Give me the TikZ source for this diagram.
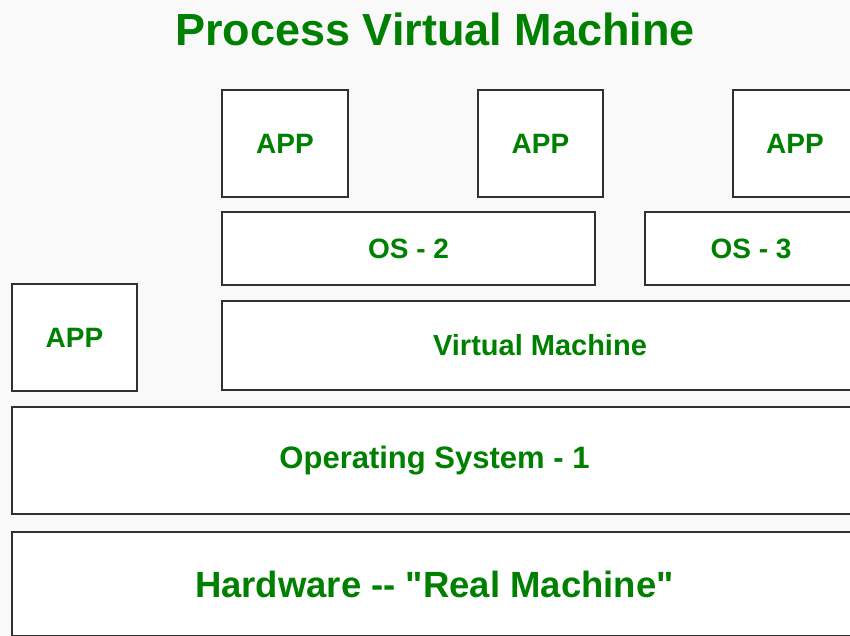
\documentclass[tikz,border=0pt]{standalone}
\usepackage{fontspec}
\setmainfont{Liberation Sans}[Ligatures=TeXOff]
\usepackage{tikz}

\definecolor{pvmgreen}{RGB}{0,128,0}
\definecolor{pvmback}{RGB}{249,249,249}
\definecolor{pvmline}{RGB}{48,48,48}

\tikzset{
	layer/.style = {draw = pvmline, line width = 2.6pt, fill = white,
		text = pvmgreen, font = \bfseries, inner sep = 0pt},
}

\begin{document}
\begin{tikzpicture}[x = 1pt, y = -1pt]
		\useasboundingbox (0,0) rectangle (850,636);
		\clip (0,0) rectangle (850,636);
		\fill[pvmback] (0,0) rectangle (850,636);
		% title
		\node[anchor = base, text = pvmgreen, font = \fontsize{45}{50}\selectfont\bfseries]
			(title) at (435,46) {Process Virtual Machine};
		% applications on top
		\node[layer, minimum width = 126, minimum height = 107, font = \fontsize{28}{32}\selectfont\bfseries]
			(app1) at (285,143.5) {APP};
		\node[layer, minimum width = 125, minimum height = 107, font = \fontsize{28}{32}\selectfont\bfseries]
			(app2) at (540.5,143.5) {APP};
		\node[layer, minimum width = 124, minimum height = 107, font = \fontsize{28}{32}\selectfont\bfseries]
			(app3) at (795,143.5) {APP};
		% guest systems
		\node[layer, minimum width = 373, minimum height = 73, font = \fontsize{28}{32}\selectfont\bfseries]
			(os2) at (408.5,248.5) {OS - 2};
		\node[layer, minimum width = 212, minimum height = 73, font = \fontsize{28}{32}\selectfont\bfseries]
			(os3) at (751,248.5) {OS - 3};
		% host level
		\node[layer, minimum width = 125, minimum height = 107, font = \fontsize{28}{32}\selectfont\bfseries]
			(app0) at (74.5,337.5) {APP};
		\node[layer, minimum width = 636, minimum height = 89, font = \fontsize{29}{33}\selectfont\bfseries]
			(vm) at (540,345.5) {Virtual Machine};
		\node[layer, minimum width = 845, minimum height = 107, font = \fontsize{31}{35}\selectfont\bfseries]
			(os1) at (434.5,460.5) {Operating System - 1};
		\node[layer, minimum width = 845, minimum height = 104, font = \fontsize{36.5}{40}\selectfont\bfseries]
			(hw) at (434.5,584) {Hardware -- "Real Machine"};
	\end{tikzpicture}
\end{document}
